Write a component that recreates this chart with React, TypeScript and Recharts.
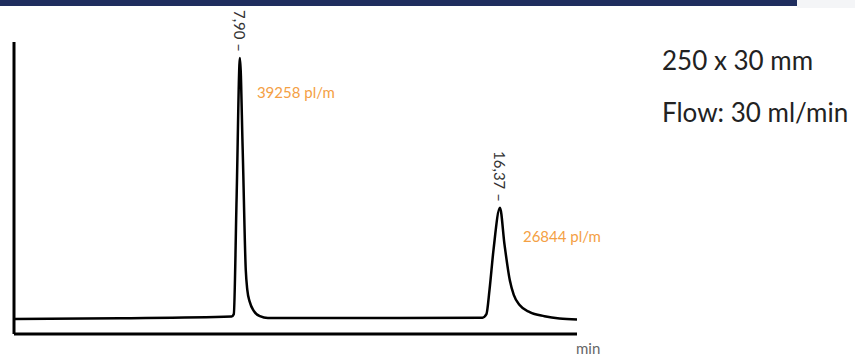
import { ComposedChart, Line, Scatter, XAxis, YAxis } from 'recharts'

// retention time (min) and detector signal (% of full scale)
const times = [
  0.54, 4.0, 7.63, 7.7, 7.79, 7.9, 7.99, 8.09, 8.14, 8.22, 8.35, 8.55, 8.81,
  13.1, 15.8, 15.93, 16.03, 16.16, 16.37, 16.52, 16.69, 16.82, 17.01, 17.34,
  17.82, 18.31, 18.88,
]
const signal = [
  5.1, 5.4, 6.0, 6.8, 45.9, 94.5, 63.0, 21.9, 15.1, 11.0, 7.9, 6.1, 5.5,
  5.5, 5.6, 6.8, 15.1, 28.8, 43.2, 30.5, 18.5, 13.4, 9.9, 7.5,
  6.1, 5.3, 5.0,
]

const peakTimes = [7.9, 16.37]
const peakHeights = [94.5, 43.2]
const peakLabels = ['7,90', '16,37']
const plateLabels = ['39258 pl/m', '26844 pl/m']

const columnInfo = ['250 x 30 mm', 'Flow: 30 ml/min']

const curve = times.map((t, i) => ({ t, v: signal[i] }))
const peaks = peakTimes.map((t, i) => ({
  t,
  v: peakHeights[i],
  label: peakLabels[i],
  plates: plateLabels[i],
  idx: i,
}))

// where the plate-count text sits relative to its peak top
const plateOffsets = [
  { dx: 17, dy: 34 },
  { dx: 23, dy: 28 },
]

const FONT = 'Lato, "Open Sans", sans-serif'

const PeakMarker = (props: any) => {
  const { cx, cy, payload } = props
  const ay = cy - 6
  const off = plateOffsets[payload.idx] || plateOffsets[0]
  return (
    <g>
      <text
        x={cx}
        y={ay}
        transform={`rotate(90 ${cx} ${ay})`}
        textAnchor="end"
        dominantBaseline="central"
        fontSize={15}
        fill="#333"
        fontFamily={FONT}
      >
        {payload.label + ' –'}
      </text>
      <text
        x={cx + off.dx}
        y={cy + off.dy}
        dominantBaseline="central"
        fontSize={15}
        fill="#f4a044"
        fontFamily={FONT}
      >
        {payload.plates}
      </text>
    </g>
  )
}

export default function App() {
  return (
    <div
      style={{
        position: 'absolute',
        left: 0,
        top: 0,
        width: 855,
        height: 358,
        background: '#fff',
        fontFamily: FONT,
        overflow: 'hidden',
      }}
    >
      <div style={{ position: 'absolute', left: 0, top: 0, width: 797, height: 6, background: '#1f2d5e' }} />
      <div style={{ position: 'absolute', left: 797, top: 0, width: 58, height: 8, background: '#f4f5f7' }} />

      <ComposedChart width={855} height={358} margin={{ top: 42, right: 278, bottom: 4, left: 4 }}>
        <XAxis
          dataKey="t"
          type="number"
          domain={[0.54, 18.88]}
          height={20}
          tick={false}
          tickLine={false}
          axisLine={{ stroke: '#000', strokeWidth: 3 }}
          label={(p: any) => {
            const vb = p.viewBox
            return (
              <text x={vb.x + vb.width - 1} y={vb.y + 14} dominantBaseline="central" fontSize={15} fill="#666" fontFamily={FONT}>
                min
              </text>
            )
          }}
        />
        <YAxis
          type="number"
          domain={[0, 100]}
          width={10}
          tick={false}
          tickLine={false}
          axisLine={{ stroke: '#000', strokeWidth: 3 }}
        />
        <Line
          data={curve}
          dataKey="v"
          type="monotone"
          stroke="#000"
          strokeWidth={2.5}
          dot={false}
          activeDot={false}
          isAnimationActive={false}
        />
        <Scatter data={peaks} dataKey="v" shape={PeakMarker} isAnimationActive={false} />
      </ComposedChart>

      {columnInfo.map((line, i) => (
        <div
          key={line}
          style={{
            position: 'absolute',
            left: 662,
            top: 44 + i * 52,
            fontSize: 26,
            color: '#222',
            lineHeight: '32px',
            whiteSpace: 'nowrap',
          }}
        >
          {line}
        </div>
      ))}
    </div>
  )
}
